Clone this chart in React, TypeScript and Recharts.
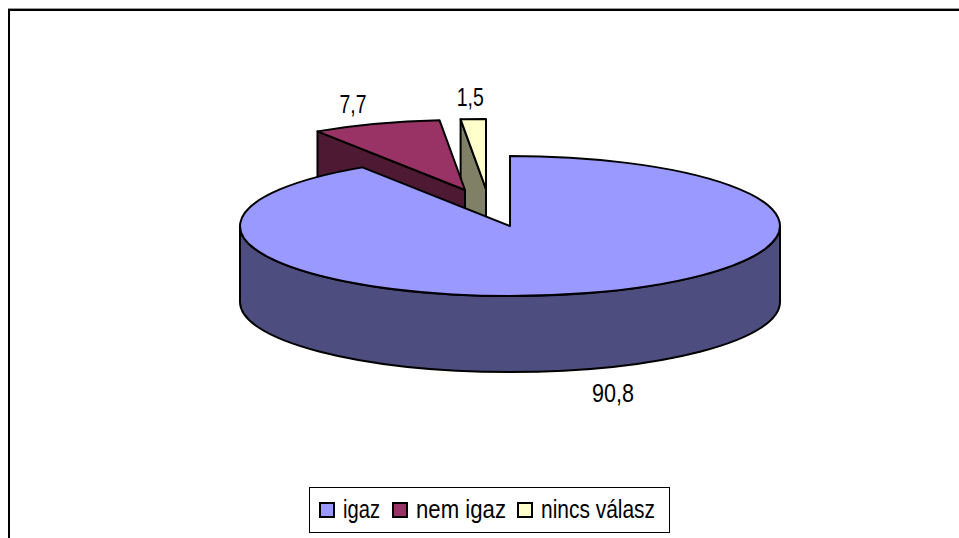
import { PieChart, Pie, Legend } from "recharts"

const categories = ["igaz", "nem igaz", "nincs válasz"]
const values = [90.8, 7.7, 1.5]
const valueLabels = ["90,8", "7,7", "1,5"]

const TOP_COLORS = ["#9999ff", "#993366", "#ffffcc"]
const WALL_COLORS = ["#4d4d80", "#4d1933", "#808066"]

// how far each slice is pulled out of the pie, and where its label sits relative to the slice
const EXPLODE = [[0, 0], [-45, -36], [-24, -37]]
const LABEL_SHIFT = [[26, 24], [-23, -20], [-3, -22]]
// the original font is a narrow one, so the text is squeezed to these widths
const LABEL_WIDTHS = [42, 27, 27]
const LEGEND_TEXT_WIDTHS = [37, 90, 114]
const LEGEND_GAPS = [9, 12, 11]

const TILT = 70 / 270
const DEPTH = 76
const FONT = "'Liberation Sans', Arial, sans-serif"
const FONT_SIZE = 25

// the pie is drawn back to front, so the big slice comes last and covers the others
const tableData = categories
  .map((name, i) => ({ name, value: values[i], index: i }))
  .reverse()

const rad = (deg: number) => (deg * Math.PI) / 180

function Slice3D(props: any) {
  const { cx, cy, outerRadius, startAngle, endAngle, payload } = props
  const i = payload.index
  const x0 = cx + EXPLODE[i][0]
  const y0 = cy + EXPLODE[i][1]
  const rx = outerRadius
  const ry = outerRadius * TILT
  const px = (a: number) => x0 + rx * Math.cos(rad(a))
  const py = (a: number) => y0 - ry * Math.sin(rad(a))

  const large = endAngle - startAngle > 180 ? 1 : 0
  const top = `M${x0},${y0} L${px(startAngle)},${py(startAngle)} A${rx},${ry} 0 ${large} 0 ${px(endAngle)},${py(endAngle)} Z`
  const cut = `M${x0},${y0} L${px(endAngle)},${py(endAngle)} v${DEPTH} L${x0},${y0 + DEPTH} Z`

  // outer wall, only the part on the front half of the ellipse
  const from = Math.max(startAngle, 180)
  const to = Math.min(endAngle, 360)
  const front = to > from
    ? `M${px(from)},${py(from)} A${rx},${ry} 0 0 0 ${px(to)},${py(to)} v${DEPTH} A${rx},${ry} 0 0 1 ${px(from)},${py(from) + DEPTH} Z`
    : null

  return (
    <g stroke="#000" strokeWidth={2} strokeLinejoin="round">
      <path d={cut} fill={WALL_COLORS[i]} />
      {front && <path d={front} fill={WALL_COLORS[i]} />}
      <path d={top} fill={TOP_COLORS[i]} />
    </g>
  )
}

function sliceLabel(props: any) {
  const { cx, cy, outerRadius, midAngle, payload } = props
  const i = payload.index
  const x = cx + EXPLODE[i][0] + outerRadius * Math.cos(rad(midAngle)) + LABEL_SHIFT[i][0]
  const y = cy + EXPLODE[i][1] - outerRadius * TILT * Math.sin(rad(midAngle)) + (i === 0 ? DEPTH : 0) + LABEL_SHIFT[i][1]
  return (
    <text
      key={i}
      x={x}
      y={y}
      textAnchor="middle"
      dominantBaseline="central"
      fontFamily={FONT}
      fontSize={FONT_SIZE}
      fill="#000"
      textLength={LABEL_WIDTHS[i]}
      lengthAdjust="spacingAndGlyphs"
    >
      {valueLabels[i]}
    </text>
  )
}

function LegendBox({ payload }: any) {
  const items = categories.map((name) => (payload || []).find((p: any) => p.value === name)).filter(Boolean)
  return (
    <div style={{ display: "flex", alignItems: "center", height: 44, width: 359, border: "1px solid #000", background: "#fff" }}>
      {items.map((entry: any, i: number) => (
        <span key={entry.value} style={{ display: "flex", alignItems: "center", marginLeft: LEGEND_GAPS[i] }}>
          <span style={{ width: 12, height: 12, border: "2px solid #000", background: TOP_COLORS[i], marginRight: 8, display: "block" }} />
          <span style={{ display: "block", width: LEGEND_TEXT_WIDTHS[i], height: 44, position: "relative" }}>
            <svg width={LEGEND_TEXT_WIDTHS[i] + 10} height={44} style={{ position: "absolute", left: 0, top: 0, overflow: "visible" }}>
              <text
                x={0}
                y={30}
                fontFamily={FONT}
                fontSize={FONT_SIZE}
                fill="#000"
                textLength={LEGEND_TEXT_WIDTHS[i]}
                lengthAdjust="spacingAndGlyphs"
              >
                {entry.value}
              </text>
            </svg>
          </span>
        </span>
      ))}
    </div>
  )
}

export default function App() {
  return (
    <div style={{ position: "absolute", left: 0, top: 0, width: 959, height: 538, overflow: "hidden", background: "#fff" }}>
      <div style={{ position: "absolute", left: 8, top: 8, right: 0, height: 1, background: "#999" }} />
      <div style={{ position: "absolute", left: 8, top: 9, right: 0, height: 2, background: "#000" }} />
      <div style={{ position: "absolute", left: 8, top: 9, bottom: 0, width: 2, background: "#000" }} />
      <PieChart width={959} height={538} margin={{ top: 0, right: 0, bottom: 0, left: 0 }} style={{ position: "absolute", left: 0, top: 0 }}>
        <Pie
          data={tableData}
          dataKey="value"
          nameKey="name"
          cx={510}
          cy={226}
          outerRadius={270}
          startAngle={90}
          endAngle={450}
          stroke="none"
          shape={Slice3D}
          label={sliceLabel}
          labelLine={false}
          isAnimationActive={false}
        />
        <Legend content={LegendBox} wrapperStyle={{ position: "absolute", left: 309, top: 487, width: "auto", bottom: "auto" }} />
      </PieChart>
    </div>
  )
}
